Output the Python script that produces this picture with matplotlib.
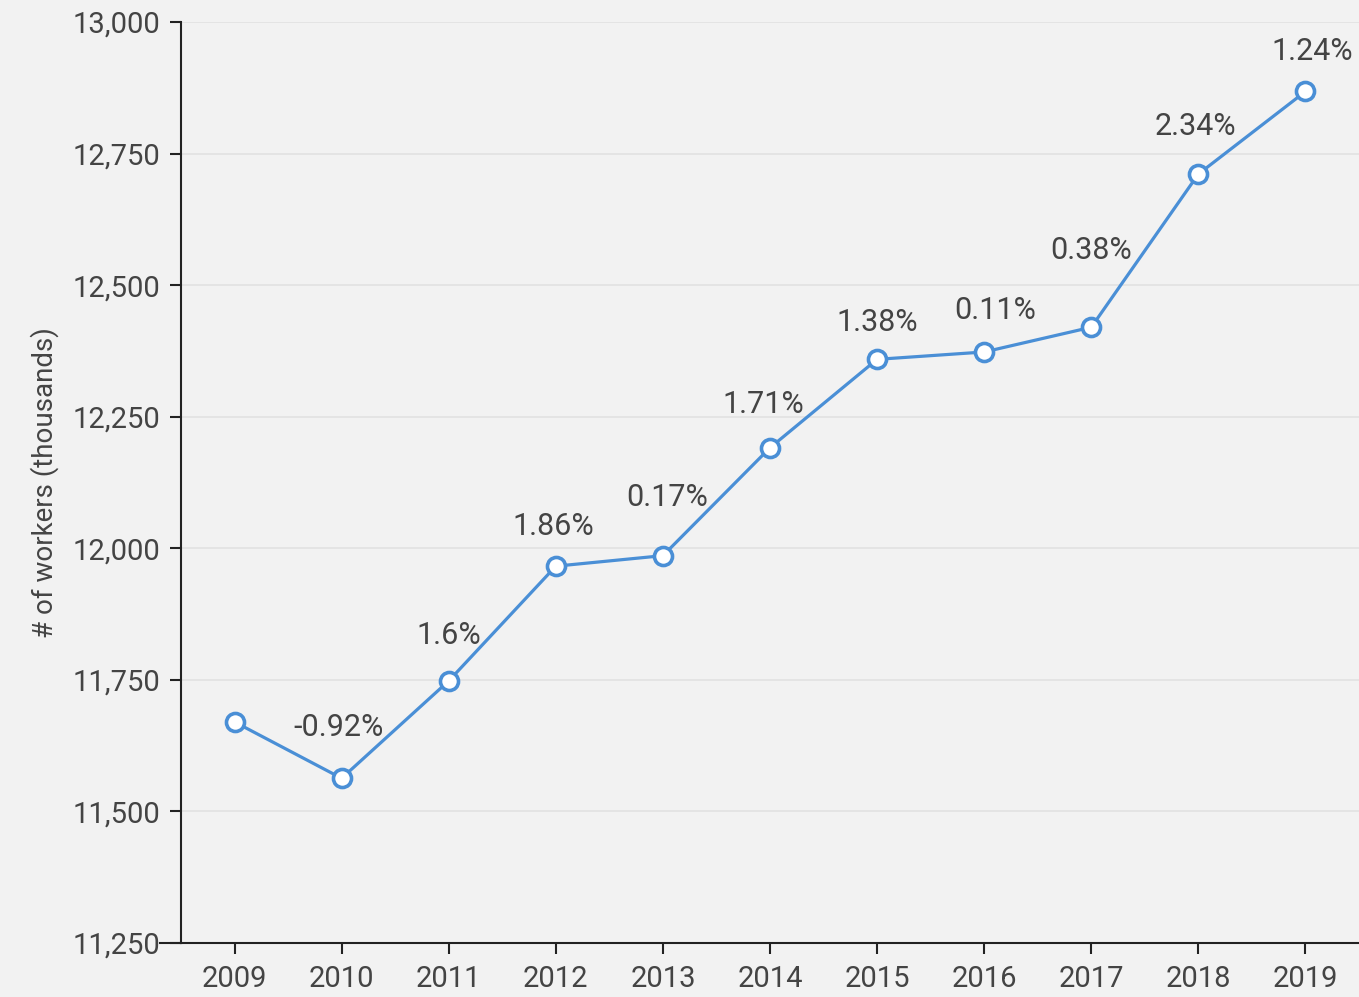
import matplotlib
matplotlib.use("Agg")
import matplotlib.pyplot as plt
from matplotlib.lines import Line2D

years = [2009, 2010, 2011, 2012, 2013, 2014, 2015, 2016, 2017, 2018, 2019]
workers = [11670, 11563, 11748, 11966, 11986, 12191, 12359, 12373, 12420, 12711, 12868]
pct_labels = ["", "-0.92%", "1.6%", "1.86%", "0.17%", "1.71%", "1.38%", "0.11%", "0.38%", "2.34%", "1.24%"]
y_ticks = [11250, 11500, 11750, 12000, 12250, 12500, 12750, 13000]

# label offsets in pixels (layout only)
label_dx = [0, -3, 0, -3, 4, -7, 0, 11, 0, -3, 7]
label_dy = [0, 51, 45, 40, 58, 43, 37, 41, 77, 48, 40]

plt.rcParams['font.family'] = ['Roboto', 'DejaVu Sans']

bg = "#f2f2f2"
fig = plt.figure(figsize=(13.59, 9.97), dpi=100, facecolor=bg)
ax = fig.add_axes([181/1359, 54/997, 1 - 181/1359, (943-22)/997])
ax.set_facecolor(bg)

blue = "#4a8fd6"
ax.plot(years, workers, color=blue, lw=2.3, marker="o", ms=13,
        mfc="white", mec=blue, mew=2.6, zorder=3, clip_on=False)

for x, y, t, dx, dy in zip(years, workers, pct_labels, label_dx, label_dy):
    if t:
        ax.annotate(t, (x, y), xytext=(dx * 0.72, dy * 0.72), textcoords="offset points",
                    ha="center", va="center", fontsize=22, color="#444444")

ax.set_xlim(2008.5, 2019.5)
ax.set_ylim(11250, 13000)
ax.set_xticks(years)
ax.set_xticklabels([str(y) for y in years])
ax.set_yticks(y_ticks)
ax.set_yticklabels([f"{v:,}" for v in y_ticks])
ax.tick_params(axis="both", labelsize=21, colors="#222222", labelcolor="#444444",
               length=8, width=1.5)
ax.tick_params(axis="y", pad=7)
ax.tick_params(axis="x", pad=8)

ax.grid(axis="y", color="#e2e2e2", lw=1.2)
ax.set_axisbelow(True)
for s in ["top", "right"]:
    ax.spines[s].set_visible(False)
for s in ["left", "bottom"]:
    ax.spines[s].set_color("#222222")
    ax.spines[s].set_linewidth(1.5)

# extend bottom axis line slightly to the left of the y axis
ax.add_line(Line2D([-21/1178, 0], [0, 0], transform=ax.transAxes, color="#222222",
                   lw=1.5, clip_on=False))

ax.set_ylabel("# of workers (thousands)", fontsize=20, color="#444444", labelpad=10)

fig.savefig("out.png", dpi=100, facecolor=bg)
